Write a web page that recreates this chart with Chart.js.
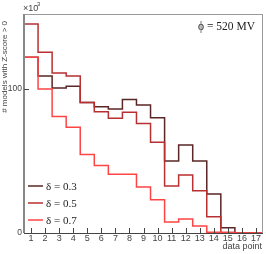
<!DOCTYPE html>
<html>
<head>
<meta charset="utf-8">
<script src="https://cdn.jsdelivr.net/npm/chart.js@4/dist/chart.umd.min.js"></script>
<style>
  html,body{margin:0;padding:0;background:#fff;}
  #box{width:266px;height:254px;}
</style>
</head>
<body>
<div id="box"><canvas id="hist"></canvas></div>
<script>
//bins along the x axis (data point number)
var dataPoints=[1,2,3,4,5,6,7,8,9,10,11,12,13,14,15,16,17];
//counts per bin, in units of 10^3 models
var delta03=[122,109,100.7,101.9,90.5,87.7,86,92.6,88.9,80,50,61,50,27,3.7,0,0];
var delta05=[145,125.5,111,109,90.5,84.2,79.6,83.8,76,63,32.6,40.3,29.4,11.3,0.4,0,0];
var delta07=[122,100,80.8,73.4,54.4,46.8,40.7,40.7,32,23,7.6,9.7,4.9,0.5,0.3,0,0];
var seriesLabels=["\u03b4 = 0.3","\u03b4 = 0.5","\u03b4 = 0.7"];
var seriesColors=["#5a2626","#b83030","#ff4444"];
var yTicks=[0,100];

//turn bin values into step points at the bin edges
function histPoints(values){
    var pts=[];
    for(var i=0;i<dataPoints.length;i++){
        pts.push({x:dataPoints[i]-0.5,y:values[i]});
    }
    var last=dataPoints.length-1;
    pts.push({x:dataPoints[last]+0.5,y:values[last]});
    return pts;
}

function makeDataset(values,idx){
    return {
        label:seriesLabels[idx],
        data:histPoints(values),
        borderColor:seriesColors[idx],
        borderWidth:1.5,
        stepped:true,
        pointRadius:0,
        fill:false,
        order:2-idx
    };
}

//frame, inner ticks, y labels, legend and extra texts
var decorations={
    id:"decorations",
    afterDraw:function(chart){
        var ctx=chart.ctx;
        var a=chart.chartArea;
        var xs=chart.scales.x, ys=chart.scales.y;
        ctx.save();
        ctx.strokeStyle="#9a9a9a";
        ctx.lineWidth=1;
        ctx.strokeRect(a.left+0.5,a.top+0.5,a.right-a.left-1,a.bottom-a.top);
        ctx.strokeStyle="#888";
        ctx.lineWidth=2;
        ctx.beginPath();
        ctx.moveTo(a.left,a.top);
        ctx.lineTo(a.left,a.bottom);
        ctx.stroke();
        ctx.strokeStyle="#444";
        ctx.lineWidth=1;
        ctx.beginPath();
        ctx.moveTo(a.left,a.bottom+0.5);
        ctx.lineTo(a.right,a.bottom+0.5);
        for(var i=0;i<dataPoints.length;i++){
            var px=Math.round(xs.getPixelForValue(dataPoints[i]))+0.5;
            ctx.moveTo(px,a.bottom);
            ctx.lineTo(px,a.bottom-5);
        }
        for(var j=0;j<yTicks.length;j++){
            var py=Math.round(ys.getPixelForValue(yTicks[j]))+0.5;
            ctx.moveTo(a.left,py);
            ctx.lineTo(a.left+5,py);
        }
        ctx.stroke();

        ctx.fillStyle="#444";
        ctx.font="8.5px 'Liberation Sans'";
        ctx.textAlign="right";
        ctx.textBaseline="middle";
        for(var m=0;m<yTicks.length;m++){
            ctx.fillText(String(yTicks[m]),a.left-2,ys.getPixelForValue(yTicks[m]));
        }

        //legend
        var ds=chart.data.datasets;
        var rowY=[186,203,220];
        ctx.font="11px 'Liberation Serif'";
        ctx.textAlign="left";
        ctx.fillStyle="#222";
        for(var k=0;k<ds.length;k++){
            ctx.strokeStyle=ds[k].borderColor;
            ctx.lineWidth=1.5;
            ctx.beginPath();
            ctx.moveTo(28,rowY[k]);
            ctx.lineTo(43,rowY[k]);
            ctx.stroke();
            ctx.fillText(ds[k].label,46,rowY[k]+1);
        }

        ctx.font="11.5px 'Liberation Serif'";
        ctx.textAlign="right";
        ctx.fillText("\u03d5 = 520 MV",255,27);

        ctx.fillStyle="#444";
        ctx.font="9px 'Liberation Sans'";
        ctx.fillText("data point",262,247);
        ctx.textAlign="left";
        ctx.fillText("\u00d710",23,9);
        ctx.font="6px 'Liberation Sans'";
        ctx.fillText("3",37,4);

        ctx.translate(5,21);
        ctx.rotate(-Math.PI/2);
        ctx.font="8px 'Liberation Sans'";
        ctx.textAlign="right";
        ctx.fillText("# models with Z-score > 0",0,0);
        ctx.restore();
    }
};

var plot=new Chart(document.getElementById("hist"),{
    type:"line",
    data:{
        datasets:[makeDataset(delta03,0),makeDataset(delta05,1),makeDataset(delta07,2)]
    },
    options:{
        responsive:true,
        maintainAspectRatio:false,
        animation:false,
        layout:{padding:{top:14,right:3,left:0,bottom:0}},
        plugins:{legend:{display:false},tooltip:{enabled:false}},
        scales:{
            x:{
                type:"linear",
                min:0.5,
                max:17.5,
                afterBuildTicks:function(s){
                    s.ticks=dataPoints.map(function(v){return {value:v};});
                },
                afterFit:function(s){s.height=21;},
                grid:{display:false,drawTicks:false},
                border:{display:false},
                ticks:{padding:0,color:"#444",font:{size:9,family:"'Liberation Sans'"},maxRotation:0,autoSkip:false}
            },
            y:{
                min:0,
                max:152,
                afterBuildTicks:function(s){
                    s.ticks=yTicks.map(function(v){return {value:v};});
                },
                afterFit:function(s){s.width=24;},
                grid:{display:false,drawTicks:false},
                border:{display:false},
                ticks:{display:false}
            }
        }
    },
    plugins:[decorations]
});
</script>
</body>
</html>
